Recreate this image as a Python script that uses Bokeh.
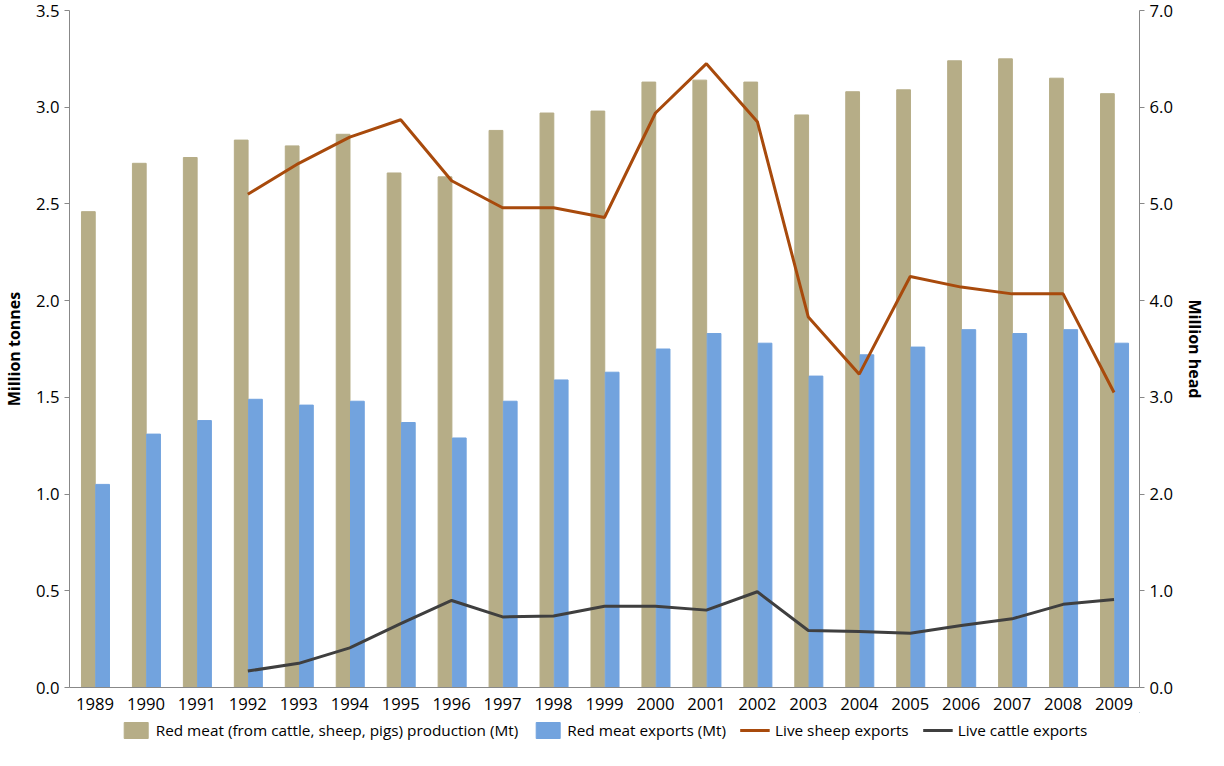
from bokeh.models import Range1d, LinearAxis, FixedTicker, NumeralTickFormatter, Legend
from bokeh.plotting import figure
from bokeh.layouts import column
from bokeh.embed import file_html
from bokeh.resources import INLINE

years = list(range(1989, 2010))
production = [2.46, 2.71, 2.74, 2.83, 2.80, 2.86, 2.66, 2.64, 2.88, 2.97, 2.98,
              3.13, 3.14, 3.13, 2.96, 3.08, 3.09, 3.24, 3.25, 3.15, 3.07]
exports = [1.05, 1.31, 1.38, 1.49, 1.46, 1.48, 1.37, 1.29, 1.48, 1.59, 1.63,
           1.75, 1.83, 1.78, 1.61, 1.72, 1.76, 1.85, 1.83, 1.85, 1.78]
line_years = list(range(1992, 2010))
sheep = [5.10, 5.42, 5.69, 5.87, 5.24, 4.96, 4.96, 4.86, 5.94, 6.45, 5.85,
         3.83, 3.24, 4.25, 4.14, 4.07, 4.07, 3.05]
cattle = [0.17, 0.25, 0.41, 0.66, 0.90, 0.73, 0.74, 0.84, 0.84, 0.80, 0.99,
          0.59, 0.58, 0.56, 0.64, 0.71, 0.86, 0.91]
labels = ["Red meat (from cattle, sheep, pigs) production (Mt)", "Red meat exports (Mt)",
          "Live sheep exports", "Live cattle exports"]

FONT = "Open Sans"
TAN, BLUE, BROWN, GREY = "#b6ad87", "#72a3de", "#a84a0c", "#3f3f3f"

p = figure(width=1208, height=712, x_range=Range1d(1988.5, 2009.5), y_range=Range1d(0, 3.5),
           output_backend="svg", toolbar_location=None, min_border_left=10, min_border_right=10,
           min_border_top=10, min_border_bottom=8)
p.extra_y_ranges = {"head": Range1d(0, 7)}

p.vbar(x=[y - 0.13 for y in years], top=production, width=0.27, color=TAN)
p.vbar(x=[y + 0.15 for y in years], top=exports, width=0.27, color=BLUE)
p.line(line_years, sheep, y_range_name="head", line_color=BROWN, line_width=3)
p.line(line_years, cattle, y_range_name="head", line_color=GREY, line_width=3)

p.xgrid.visible = False
p.ygrid.visible = False
p.outline_line_color = None

p.xaxis.ticker = FixedTicker(ticks=years)
p.xaxis.minor_tick_line_color = None
p.yaxis.ticker = FixedTicker(ticks=[0, 0.5, 1, 1.5, 2, 2.5, 3, 3.5])
p.yaxis.formatter = NumeralTickFormatter(format="0.0")
p.yaxis.axis_label = "Million tonnes"
p.yaxis.minor_tick_line_color = None

right = LinearAxis(y_range_name="head", ticker=FixedTicker(ticks=[0, 1, 2, 3, 4, 5, 6, 7]),
                   formatter=NumeralTickFormatter(format="0.0"), axis_label="Million head")
right.minor_tick_line_color = None
p.add_layout(right, "right")

for ax in [p.xaxis[0], p.yaxis[0], right]:
    ax.axis_line_color = "#888888"
    ax.major_tick_line_color = "#888888"
    ax.major_tick_out = 5
    ax.major_tick_in = 0
    ax.major_label_text_font = FONT
    ax.major_label_text_font_size = "12.5pt"
    ax.major_label_text_color = "#000000"
    ax.axis_label_text_font = FONT
    ax.axis_label_text_font_size = "12pt"
    ax.axis_label_text_font_style = "bold"
    ax.axis_label_text_color = "#000000"
    ax.axis_label_standoff = 8
p.xaxis.major_tick_line_color = None

# separate strip for the legend; its sample marks sit outside the visible range
leg = figure(width=1208, height=36, x_range=Range1d(0, 1), y_range=Range1d(0, 1),
             output_backend="svg", toolbar_location=None, min_border=0)
leg.axis.visible = False
leg.grid.visible = False
leg.outline_line_color = None
r1 = leg.vbar(x=[5], top=[5], bottom=4, width=1, color=TAN)
r2 = leg.vbar(x=[5], top=[5], bottom=4, width=1, color=BLUE)
r3 = leg.line(x=[5, 6], y=[5, 5], line_color=BROWN, line_width=3)
r4 = leg.line(x=[5, 6], y=[5, 5], line_color=GREY, line_width=3)
legend = Legend(items=[(labels[0], [r1]), (labels[1], [r2]), (labels[2], [r3]), (labels[3], [r4])],
                orientation="horizontal", location="center", border_line_color=None,
                background_fill_alpha=0, label_text_color="#000000",
                label_text_font=FONT, label_text_font_size="11.5pt", spacing=14,
                glyph_width=30, padding=0, margin=0)
leg.add_layout(legend, "center")

open("out.html", "w").write(file_html(column(p, leg, spacing=0), INLINE))
